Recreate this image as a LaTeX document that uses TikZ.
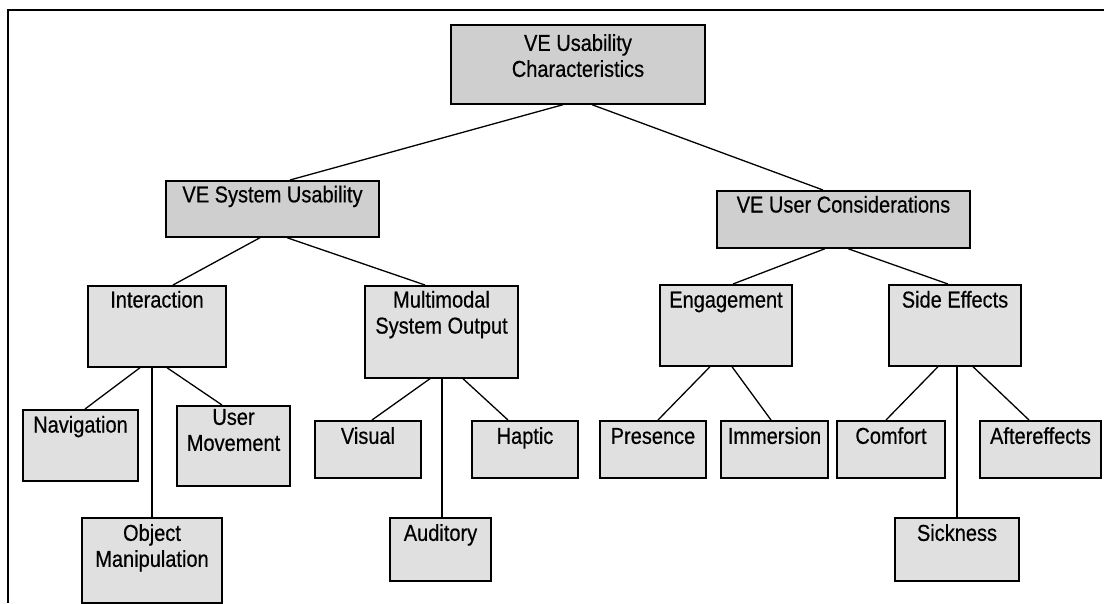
\documentclass[tikz,border=0pt]{standalone}
\usepackage{fontspec}
\setmainfont{Liberation Sans}[FakeStretch=0.87,FakeBold=0.5]
\newcommand{\twoline}[2]{\begin{tabular}[t]{@{}c@{}}#1\\#2\end{tabular}}
\definecolor{boxdark}{gray}{0.81}
\definecolor{boxlight}{gray}{0.88}
\tikzset{
  box/.style={draw, line width=1.7pt, inner sep=0pt, anchor=north, fill=boxlight,
    font=\fontsize{23}{26}\selectfont, text=black},
  upper/.style={fill=boxdark},
  link/.style={line width=1.3pt},
  frame/.style={line width=1.4pt}
}
\begin{document}
\begin{tikzpicture}[x=1pt,y=-1pt]
\useasboundingbox (0,0) rectangle (1104,603);
% frame
\coordinate (fb) at (8,603);
\coordinate (fc) at (8,10);
\coordinate (fr) at (1104,10);
\draw[frame] (fb) -- (fc) -- (fr);
% level 0
\node[box,upper,minimum width=254pt,text height=26pt,text depth=53pt] (top) at (578,24) {\twoline{VE Usability}{Characteristics}};
% level 1
\node[box,upper,minimum width=213pt,text height=21.5pt,text depth=34.5pt] (vsu) at (272.5,180) {VE System Usability};
\node[box,upper,minimum width=253pt,text height=21.7pt,text depth=35.3pt] (vuc) at (843.5,190) {VE User Considerations};
% level 2
\node[box,minimum width=138pt,text height=21.7pt,text depth=59.3pt] (inter) at (157,285) {Interaction};
\node[box,minimum width=153pt,text height=21.7pt,text depth=70.3pt] (multi) at (441.5,285) {\twoline{Multimodal}{System Output}};
\node[box,minimum width=132pt,text height=22.7pt,text depth=58.3pt] (eng) at (726,284) {Engagement};
\node[box,minimum width=132pt,text height=22.7pt,text depth=58.3pt] (side) at (955,284) {Side Effects};
% level 3
\node[box,minimum width=115pt,text height=22.7pt,text depth=48.3pt] (nav) at (80.5,409) {Navigation};
\node[box,minimum width=113pt,text height=19pt,text depth=61pt] (umov) at (233.5,405) {\twoline{User}{Movement}};
\node[box,minimum width=140pt,text height=23pt,text depth=62pt] (obj) at (152,517) {\twoline{Object}{Manipulation}};
\node[box,minimum width=106pt,text height=23pt,text depth=34pt] (vis) at (368,420) {Visual};
\node[box,minimum width=101pt,text height=23pt,text depth=40pt] (aud) at (440.5,517) {Auditory};
\node[box,minimum width=106pt,text height=23pt,text depth=34pt] (hap) at (525,420) {Haptic};
\node[box,minimum width=106pt,text height=23pt,text depth=34pt] (pres) at (653,420) {Presence};
\node[box,minimum width=107pt,text height=23pt,text depth=34pt] (imm) at (774.5,420) {Immersion};
\node[box,minimum width=108pt,text height=23pt,text depth=34pt] (comf) at (891,420) {Comfort};
\node[box,minimum width=121pt,text height=23pt,text depth=34pt] (after) at (1040.5,420) {Aftereffects};
\node[box,minimum width=124pt,text height=23pt,text depth=40pt] (sick) at (957,517) {Sickness};
% connectors
\draw[link] ([xshift=-15pt]top.south) -- ([xshift=17.5pt]vsu.north);
\draw[link] ([xshift=14pt]top.south) -- ([xshift=-20.5pt]vuc.north);
\draw[link] ([xshift=-12.5pt]vsu.south) -- ([xshift=16pt]inter.north);
\draw[link] ([xshift=14.5pt]vsu.south) -- ([xshift=-16.5pt]multi.north);
\draw[link] ([xshift=-17pt]inter.south) -- ([xshift=4.5pt]nav.north);
\draw[link] ([xshift=-5pt]inter.south) -- (obj.north);
\draw[link] ([xshift=10pt]inter.south) -- ([xshift=-11.5pt]umov.north);
\draw[link] ([xshift=-11.5pt]multi.south) -- ([xshift=4pt]vis.north);
\draw[link] ([xshift=0.5pt]multi.south) -- ([xshift=1.5pt]aud.north);
\draw[link] ([xshift=21.5pt]multi.south) -- ([xshift=-17pt]hap.north);
\draw[link] ([xshift=-18.5pt]vuc.south) -- ([xshift=7pt]eng.north);
\draw[link] ([xshift=4.5pt]vuc.south) -- ([xshift=-7pt]side.north);
\draw[link] ([xshift=-16pt]eng.south) -- ([xshift=5pt]pres.north);
\draw[link] ([xshift=6pt]eng.south) -- ([xshift=-3.5pt]imm.north);
\draw[link] ([xshift=-17pt]side.south) -- ([xshift=-5pt]comf.north);
\draw[link] ([xshift=2pt]side.south) -- (sick.north);
\draw[link] ([xshift=18pt]side.south) -- ([xshift=-11.5pt]after.north);
\end{tikzpicture}
\end{document}
